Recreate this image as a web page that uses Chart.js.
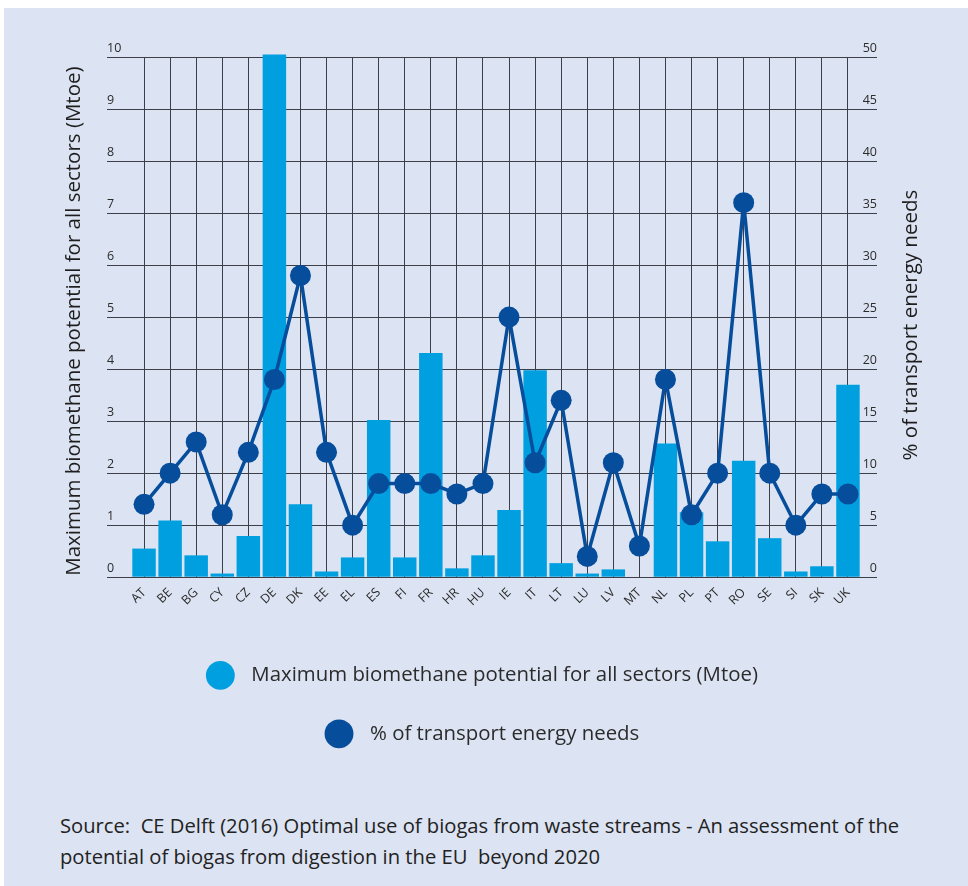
<!DOCTYPE html>
<html>
<head>
<meta charset="utf-8">
<script src="https://cdn.jsdelivr.net/npm/chart.js@4.4.1/dist/chart.umd.min.js"></script>
<style>
  html, body { margin: 0; padding: 0; background: #ffffff; }
  #panel { position: absolute; left: 4px; top: 8px; width: 964px; height: 878px; background: #dce3f2; }
  #wrap { position: absolute; left: 0; top: 0; width: 964px; height: 782px; }
  #source { position: absolute; left: 56px; top: 802px; font-family: "Open Sans", sans-serif; font-size: 20.2px; line-height: 31px; color: #222; white-space: pre; }
</style>
</head>
<body>
<div id="panel">
  <div id="wrap"><canvas id="myChart"></canvas></div>
  <div id="source">Source:  CE Delft (2016) Optimal use of biogas from waste streams - An assessment of the
potential of biogas from digestion in the EU  beyond 2020</div>
</div>
<script>
const countries = ['AT', 'BE', 'BG', 'CY', 'CZ', 'DE', 'DK', 'EE', 'EL', 'ES', 'FI', 'FR', 'HR', 'HU',
    'IE', 'IT', 'LT', 'LU', 'LV', 'MT', 'NL', 'PL', 'PT', 'RO', 'SE', 'SI', 'SK', 'UK'];
const potentialMtoe = [0.55, 1.09, 0.42, 0.07, 0.79, 10.05, 1.40, 0.11, 0.38, 3.02, 0.38, 4.31, 0.17, 0.42,
    1.29, 3.98, 0.27, 0.07, 0.15, 0, 2.57, 1.25, 0.69, 2.24, 0.75, 0.11, 0.21, 3.70];
const transportShare = [7, 10, 13, 6, 12, 19, 29, 12, 5, 9, 9, 9, 8, 9,
    25, 11, 17, 2, 11, 3, 19, 6, 10, 36, 10, 5, 8, 8];
const leftTicks = [0, 1, 2, 3, 4, 5, 6, 7, 8, 9, 10];
const rightTicks = [0, 5, 10, 15, 20, 25, 30, 35, 40, 45, 50];

const barLabel = 'Maximum biomethane potential for all sectors (Mtoe)';
const lineLabel = '% of transport energy needs';

const lightBlue = '#009fe0';
const darkBlue = '#064d9c';
const gridColor = '#3c3f47';
const textColor = '#2b2b2b';
const fontFamily = '"Open Sans", sans-serif';

// right axis title reads bottom-to-top, so draw both titles here
const axisTitles = {
    id: 'axisTitles',
    afterDraw(chart) {
        const { ctx, chartArea } = chart;
        const midY = (chartArea.top + chartArea.bottom) / 2;
        ctx.save();
        ctx.fillStyle = '#1e1e1e';
        ctx.font = '20.5px ' + fontFamily;
        ctx.textAlign = 'center';
        ctx.textBaseline = 'middle';
        ctx.translate(70, midY + 4);
        ctx.rotate(-Math.PI / 2);
        ctx.fillText(barLabel, 0, 0);
        ctx.restore();
        ctx.save();
        ctx.fillStyle = '#1e1e1e';
        ctx.font = '20.5px ' + fontFamily;
        ctx.textAlign = 'center';
        ctx.textBaseline = 'middle';
        ctx.translate(907, midY + 8);
        ctx.rotate(-Math.PI / 2);
        ctx.fillText(lineLabel, 0, 0);
        ctx.restore();
    }
};

const ctx = document.getElementById('myChart').getContext('2d');
const data = {
    labels: countries,
    datasets: [{
        type: 'bar',
        label: barLabel,
        data: potentialMtoe,
        yAxisID: 'y',
        backgroundColor: lightBlue,
        borderWidth: 0,
        barPercentage: 0.9,
        categoryPercentage: 1,
        clip: false,
        order: 2
    }, {
        type: 'line',
        label: lineLabel,
        data: transportShare,
        yAxisID: 'y1',
        borderColor: darkBlue,
        backgroundColor: darkBlue,
        borderWidth: 3.5,
        pointRadius: 10.5,
        pointBackgroundColor: darkBlue,
        pointBorderWidth: 0,
        tension: 0,
        order: 1
    }]
};

const config = {
    data: data,
    plugins: [axisTitles],
    options: {
        responsive: true,
        maintainAspectRatio: false,
        animation: false,
        layout: { padding: { left: 103, right: 91, top: 49, bottom: 36 } },
        plugins: {
            tooltip: { enabled: false },
            legend: {
                position: 'bottom',
                labels: {
                    usePointStyle: true,
                    pointStyle: 'circle',
                    padding: 38,
                    color: textColor,
                    font: { family: fontFamily, size: 20.4 },
                    sort: (a, b) => a.datasetIndex - b.datasetIndex,
                    generateLabels: (chart) => Chart.defaults.plugins.legend.labels.generateLabels(chart)
                        .map(item => Object.assign(item, { text: '  ' + item.text + '   ', lineWidth: 0 }))
                }
            }
        },
        scales: {
            x: {
                offset: true,
                grid: { offset: false, color: gridColor, drawTicks: false },
                border: { display: false },
                ticks: {
                    minRotation: 45, maxRotation: 45, padding: 8,
                    color: textColor, font: { family: fontFamily, size: 12.5 }
                },
                afterFit: (scale) => { scale.height = 50; }
            },
            y: {
                position: 'left',
                min: 0, max: 10,
                afterBuildTicks: (scale) => { scale.ticks = leftTicks.map(v => ({ value: v })); },
                grid: { color: gridColor, tickLength: 24, tickColor: gridColor },
                border: { display: false },
                ticks: {
                    crossAlign: 'far', labelOffset: -9,
                    color: textColor, font: { family: fontFamily, size: 12.5 }
                },
                afterFit: (scale) => { scale.width = 24; }
            },
            y1: {
                position: 'right',
                min: 0, max: 50,
                afterBuildTicks: (scale) => { scale.ticks = rightTicks.map(v => ({ value: v })); },
                grid: { drawOnChartArea: false, color: gridColor, tickLength: 16 },
                border: { display: false },
                ticks: {
                    crossAlign: 'far', labelOffset: -9,
                    color: textColor, font: { family: fontFamily, size: 12.5 }
                },
                afterFit: (scale) => { scale.width = 16; }
            }
        }
    }
};

const myChart = new Chart(ctx, config);
</script>
</body>
</html>
